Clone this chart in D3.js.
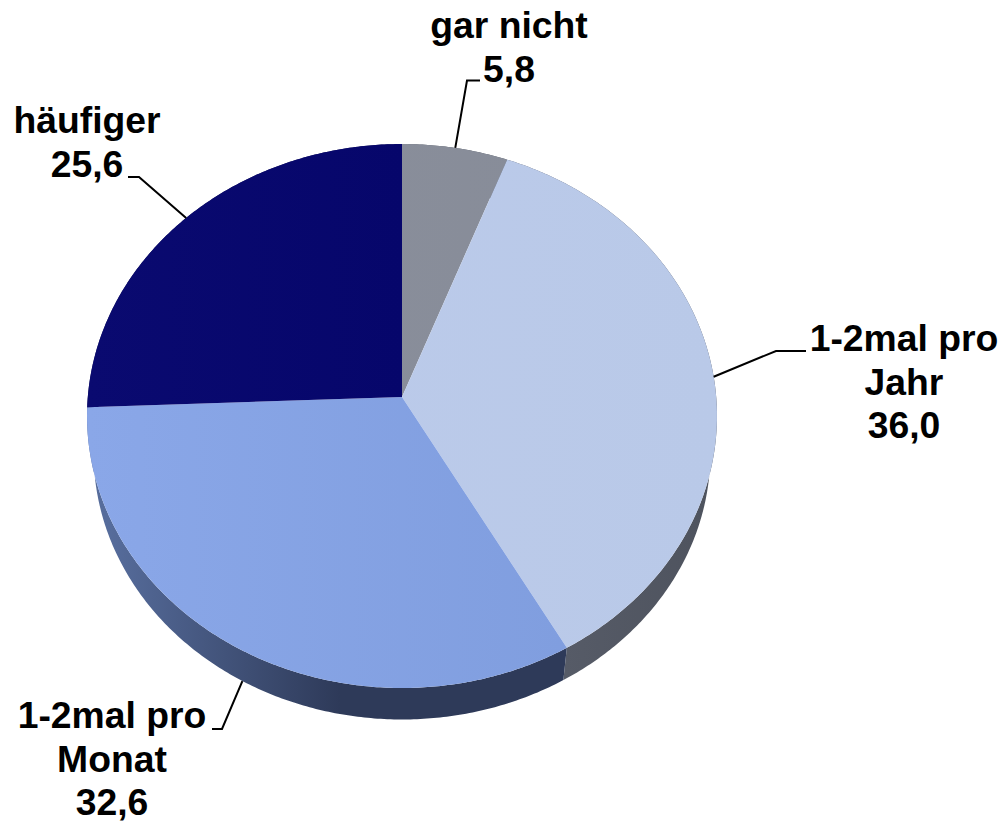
<!DOCTYPE html>
<html>
<head>
<meta charset="utf-8">
<script src="https://cdn.jsdelivr.net/npm/d3@7"></script>
<style>
  html, body { margin: 0; padding: 0; background: #fff; }
  svg { display: block; }
  text { font-family: "Liberation Sans", Arial, sans-serif; font-weight: bold; font-size: 37.3px; fill: #000; }
</style>
</head>
<body>
<div id="chart"></div>
<script>
// data, clockwise from 12 o'clock
const categories = ["gar nicht", "1-2mal pro Jahr", "1-2mal pro Monat", "häufiger"];
const values = [5.8, 36.0, 32.6, 25.6];

const width = 1004;
const height = 822;

const topStart = ["#8b909d", "#bccbeb", "#8aa7e8", "#0a0a70"];
const topEnd = ["#868b97", "#b9c9e8", "#7d9bdc", "#020266"];
const wallStart = ["#555a66", "#565b67", "#566c9b", "#22225a"];
const wallEnd = ["#555a66", "#4e535e", "#2e3a59", "#22225a"];

// label placement: lines, centre x, first baseline, leader elbow and end of its shelf
const labelLines = [["gar nicht", "5,8"], ["1-2mal pro", "Jahr", "36,0"], ["1-2mal pro", "Monat", "32,6"], ["häufiger", "25,6"]];
const labelX = [509, 904, 112, 87];
const labelY = [38, 351, 728, 133];
const elbows = [[467, 80.5], [776, 351], [222, 729], [139, 177]];
const shelves = [[480, 80.5], [806, 351], [212, 729], [128, 177]];

// the pie is tilted in perspective, so a circle point goes through a homography
const apexX = 402, apexY = 397;
const persp = -0.0699, scaleX = 314.2, scaleY = 242.9;
const wallScale = 0.979, wallY = 434.6;

function project(a, s = 1, cy = apexY) {
    const x = Math.sin(a), y = -Math.cos(a);
    const w = 1 + persp * y;
    return [apexX + s * scaleX * x / w, cy + s * (scaleY * y + apexY * persp * y * -1) / w];
}

function rim(a0, a1, s, cy) {
    const n = Math.max(2, Math.ceil((a1 - a0) / 0.01));
    return d3.range(n + 1).map(i => project(a0 + (a1 - a0) * i / n, s, cy));
}

const line = d3.line();
const slices = d3.pie().sort(null).value(d => d)(values);

const svg = d3.select("#chart").append("svg")
    .attr("width", width)
    .attr("height", height);

const defs = svg.append("defs");
function gradient(id, c0, c1, x0, x1) {
    const g = defs.append("linearGradient")
        .attr("id", id)
        .attr("gradientUnits", "userSpaceOnUse")
        .attr("x1", x0).attr("x2", x1).attr("y1", 0).attr("y2", 0);
    g.append("stop").attr("offset", 0).attr("stop-color", c0);
    g.append("stop").attr("offset", 1).attr("stop-color", c1);
}
slices.forEach((d, i) => {
    gradient("top" + i, topStart[i], topEnd[i], apexX - scaleX, apexX + scaleX);
    gradient("wall" + i, wallStart[i], wallEnd[i], i === 2 ? 110 : 565, i === 2 ? 340 : 710);
});

// side wall first, the top face covers whatever should not show
svg.append("g").selectAll("path")
    .data(slices)
    .join("path")
    .attr("d", d => {
        const upper = rim(d.startAngle, d.endAngle);
        const lower = rim(d.startAngle, d.endAngle, wallScale, wallY).reverse();
        return line(upper.concat(lower)) + "Z";
    })
    .attr("fill", (d, i) => `url(#wall${i})`);

svg.append("g").selectAll("path")
    .data(slices)
    .join("path")
    .attr("d", d => line([[apexX, apexY]].concat(rim(d.startAngle, d.endAngle))) + "Z")
    .attr("fill", (d, i) => `url(#top${i})`);

// leaders start at the middle of each slice; Monat sits on the lower rim
svg.append("g").selectAll("path")
    .data(slices)
    .join("path")
    .attr("d", (d, i) => {
        const mid = (d.startAngle + d.endAngle) / 2;
        const start = i === 2 ? project(mid, wallScale, wallY) : project(mid);
        return line([start, elbows[i], shelves[i]]);
    })
    .attr("fill", "none")
    .attr("stroke", "#000")
    .attr("stroke-width", 2);

const labels = svg.append("g").selectAll("text")
    .data(categories)
    .join("text")
    .attr("text-anchor", "middle")
    .attr("y", (d, i) => labelY[i]);

labels.each(function(d, i) {
    d3.select(this).selectAll("tspan")
        .data(labelLines[i])
        .join("tspan")
        .attr("x", labelX[i])
        .attr("dy", (t, j) => j === 0 ? 0 : 43.5)
        .text(t => t);
});
</script>
</body>
</html>
